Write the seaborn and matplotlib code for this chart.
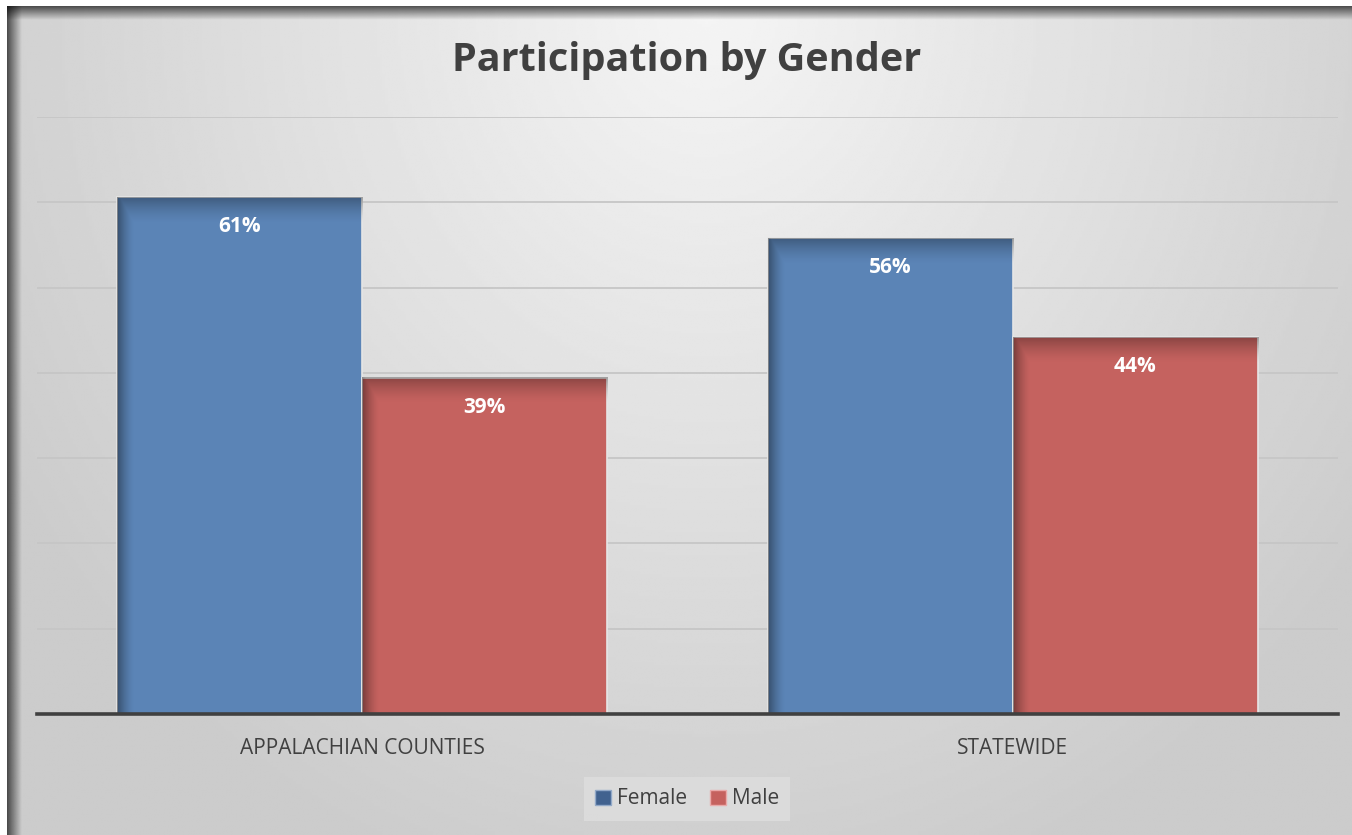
import numpy as np
import pandas as pd
import matplotlib.pyplot as plt
import seaborn as sns
from matplotlib.patches import Patch

# data (percent of participants)
regions = ["APPALACHIAN COUNTIES", "STATEWIDE"]
genders = ["Female", "Male"]
female = [60.6, 55.8]
male = [39.4, 44.2]
gridticks = [10, 20, 30, 40, 50, 60, 70]

df = pd.DataFrame({
    "region": regions * 2,
    "gender": ["Female"] * len(regions) + ["Male"] * len(regions),
    "pct": female + male,
})

sns.set_style("white")
plt.rcParams['font.family'] = ['Open Sans', 'DejaVu Sans']

blue = "#5b84b6"
red = "#c5625f"
txt = "#404040"

W, H = 1352, 835
fig = plt.figure(figsize=(W / 100, H / 100), dpi=100)
fig.patch.set_facecolor("white")

# background: grey radial gradient + frame shadow
bg = fig.add_axes([0, 0, 1, 1], zorder=0)
bg.set_xlim(0, W)
bg.set_ylim(H, 0)
bg.axis("off")
yy, xx = np.mgrid[0:1:300j, 0:1:500j]
r = np.sqrt(((xx - 0.52) / 0.6) ** 2 + (yy / 1.1) ** 2)
shade = 0.96 - 0.16 * np.clip(r, 0, 1)
bg.imshow(shade, cmap="gray", vmin=0, vmax=1, extent=[7, W, H, 6], aspect="auto",
          interpolation="bilinear")
ramp = np.linspace(0.65, 0, 40)
left = np.zeros((2, 40, 4)); left[..., 3] = ramp
bg.imshow(left, extent=[7, 22, H, 6], aspect="auto", interpolation="bilinear")
top = np.zeros((40, 2, 4)); top[..., 3] = ramp[:, None]
bg.imshow(top, extent=[7, W, 20, 6], aspect="auto", interpolation="bilinear")
bg.set_xlim(0, W)
bg.set_ylim(H, 0)

# main plot
ax = fig.add_axes([37 / W, 1 - 714 / H, (1338 - 37) / W, (714 - 117) / H], zorder=1)
ax.patch.set_alpha(0)
sns.barplot(data=df, x="region", y="pct", hue="gender", palette=[blue, red],
            saturation=1, width=0.754, edgecolor="#e6e6e6", linewidth=1.2, ax=ax,
            legend=False, zorder=3)

ax.set_xlim(-0.5, 1.5)
ax.set_ylim(0, 70)
ax.set_yticks(gridticks)
ax.yaxis.grid(True, color="#c6c6c6", linewidth=1.3, zorder=0)
ax.set_axisbelow(True)
ax.tick_params(axis="y", left=False, labelleft=False)
ax.tick_params(axis="x", length=0, pad=17, labelsize=15, labelcolor=txt)
ax.set_xlabel("")
ax.set_ylabel("")
for s in ["top", "right", "left"]:
    ax.spines[s].set_visible(False)
ax.spines["bottom"].set_color(txt)
ax.spines["bottom"].set_linewidth(2.6)
ax.spines["bottom"].set_zorder(5)

# soft shading on the bars' left and top edges
for p in ax.patches:
    x0, y0 = p.get_x(), p.get_y()
    w, h = p.get_width(), p.get_height()
    g = np.zeros((400, 400, 4))
    gx = np.clip(1 - np.linspace(0, 1, 400) / 0.07, 0, 1) ** 1.5 * 0.4
    gy = np.clip(1 - np.linspace(0, 1, 400) / (3.0 / h), 0, 1) ** 1.5 * 0.3
    g[..., 3] = np.maximum(gx[None, :], gy[:, None])
    ax.imshow(g, extent=[x0, x0 + w, y0, y0 + h], aspect="auto", zorder=4,
              origin="lower" if False else "upper", interpolation="bilinear")
ax.set_xlim(-0.5, 1.5)
ax.set_ylim(0, 70)

for c in ax.containers:
    ax.bar_label(c, labels=[f"{v:.0f}%" for v in c.datavalues], padding=-29,
                 color="white", fontweight="bold", fontsize=15, zorder=6)

fig.text(0.508, 1 - 60 / H, "Participation by Gender", ha="center", va="center",
         fontsize=28.5, fontweight="bold", color=txt)

handles = [Patch(facecolor="#41628f", edgecolor="#92a9c8", label="Female"),
           Patch(facecolor=red, edgecolor="#eaaaaa", label="Male")]
leg = fig.legend(handles=handles, loc="center", bbox_to_anchor=(687 / W, 1 - 799 / H),
                 ncol=2, frameon=True, fancybox=False, fontsize=15,
                 handlelength=0.75, handleheight=0.75, handletextpad=0.3,
                 columnspacing=1.1, borderpad=0.55)
leg.get_frame().set_facecolor("#dedede")
leg.get_frame().set_edgecolor("none")
for t in leg.get_texts():
    t.set_color(txt)

fig.savefig("out.png", dpi=100)
